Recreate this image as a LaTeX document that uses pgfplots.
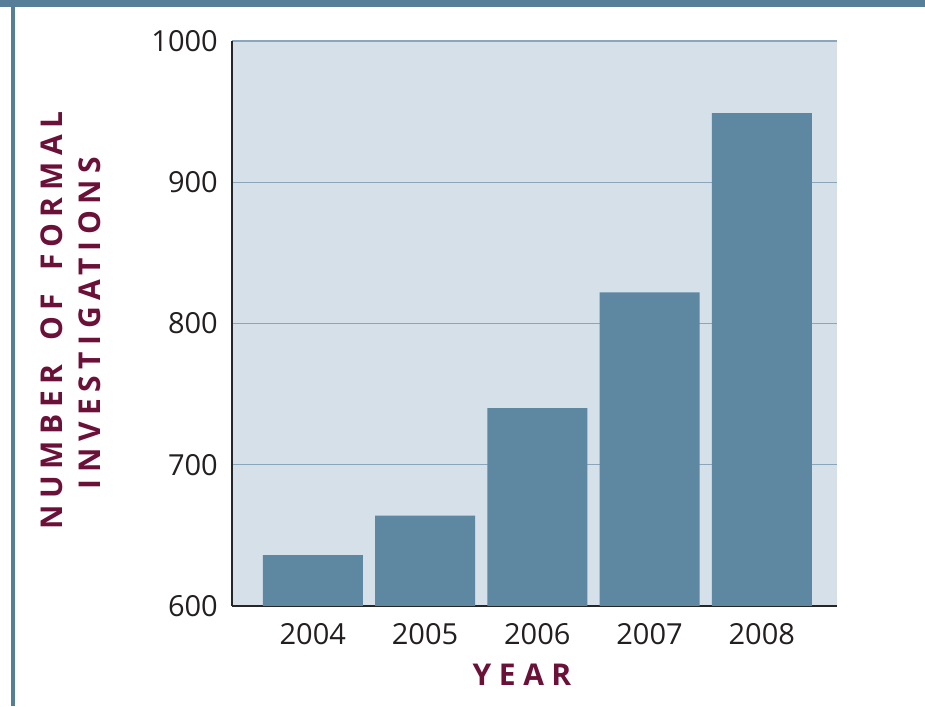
\documentclass[border=0pt]{standalone}
\usepackage{fontspec}
\setmainfont{Open Sans}
\usepackage{pgfplots}
\pgfplotsset{compat=1.18}
\definecolor{band}{HTML}{577E99}
\definecolor{barc}{HTML}{5E87A2}
\definecolor{bgc}{HTML}{D6E0E9}
\definecolor{gridc}{HTML}{8AA6BC}
\definecolor{maroon}{HTML}{6B1038}
\definecolor{tickc}{HTML}{231F20}
\begin{document}
\begin{tikzpicture}[x=1pt,y=1pt]
\useasboundingbox (0,0) rectangle (925,706);
\fill[band] (0,699) rectangle (925,706);
\fill[band] (11,0) rectangle (15,706);
\begin{axis}[
  at={(232pt,100pt)}, anchor=south west,
  scale only axis, width=605pt, height=565pt,
  ymin=600, ymax=1000, xmin=-0.72, xmax=4.67,
  ytick={600,700,800,900,1000},
  xtick={0,1,2,3,4},
  xticklabels={2004,2005,2006,2007,2008},
  /pgf/number format/1000 sep={},
  ymajorgrids,
  grid style={gridc, line width=1.4pt},
  axis background/.style={fill=bgc},
  axis x line*=bottom, axis y line*=left,
  axis line style={line width=1.8pt, color=black!85},
  major tick length=0pt,
  /pgf/number format/assume math mode=true,
  tick label style={font=\fontsize{29}{34}\selectfont, text=tickc, inner sep=0pt},
  yticklabel shift=14pt,
  xticklabel shift=17pt,
  xticklabel style={anchor=north},
]
\addplot[ybar, bar width=100pt, fill=barc, draw=none, bar shift=0pt] coordinates {
  (0,636) (1,664) (2,740) (3,822) (4,949)
};
\end{axis}
\node[anchor=base, text=maroon, font=\fontsize{30}{36}\selectfont\bfseries\addfontfeature{LetterSpace=25}] at (522,21) {YEAR};
\node[anchor=base, rotate=90, text=maroon, font=\fontsize{30}{36}\selectfont\bfseries\addfontfeature{LetterSpace=22}] at (62,385.5) {NUMBER\hspace{9pt} OF\hspace{9pt} FORMAL};
\node[anchor=base, rotate=90, text=maroon, font=\fontsize{30}{36}\selectfont\bfseries\addfontfeature{LetterSpace=22}] at (100,383) {INVESTIGATIONS};
\end{tikzpicture}
\end{document}
